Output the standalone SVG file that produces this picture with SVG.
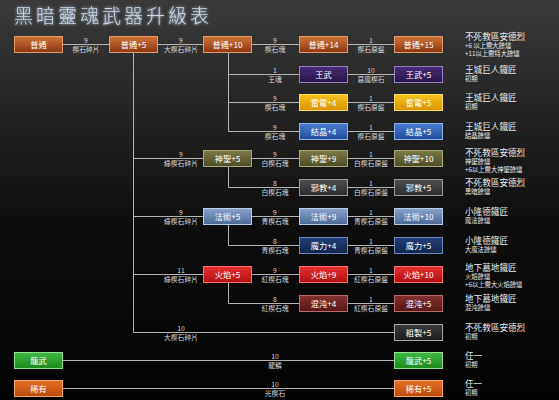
<svg xmlns="http://www.w3.org/2000/svg" width="559" height="400" viewBox="0 0 559 400">
<defs>
<linearGradient id="bg" x1="0" y1="0" x2="0" y2="1">
<stop offset="0" stop-color="#3a3a3a"/><stop offset="0.55" stop-color="#0e0e0e"/><stop offset="1" stop-color="#030303"/>
</linearGradient>
<linearGradient id="gN" x1="0" y1="0" x2="0" y2="1"><stop offset="0" stop-color="#d0743a"/><stop offset="1" stop-color="#8a3812"/></linearGradient>
<linearGradient id="gK" x1="0" y1="0" x2="0" y2="1"><stop offset="0" stop-color="#4a2c78"/><stop offset="1" stop-color="#281448"/></linearGradient>
<linearGradient id="gL" x1="0" y1="0" x2="0" y2="1"><stop offset="0" stop-color="#f6c420"/><stop offset="1" stop-color="#d89400"/></linearGradient>
<linearGradient id="gC" x1="0" y1="0" x2="0" y2="1"><stop offset="0" stop-color="#4a7cd0"/><stop offset="1" stop-color="#234c9a"/></linearGradient>
<linearGradient id="gD" x1="0" y1="0" x2="0" y2="1"><stop offset="0" stop-color="#7c7a48"/><stop offset="1" stop-color="#4e4c26"/></linearGradient>
<linearGradient id="gO" x1="0" y1="0" x2="0" y2="1"><stop offset="0" stop-color="#505050"/><stop offset="1" stop-color="#2c2c2c"/></linearGradient>
<linearGradient id="gE" x1="0" y1="0" x2="0" y2="1"><stop offset="0" stop-color="#8aa4cc"/><stop offset="1" stop-color="#4a6898"/></linearGradient>
<linearGradient id="gM" x1="0" y1="0" x2="0" y2="1"><stop offset="0" stop-color="#23407a"/><stop offset="1" stop-color="#12244a"/></linearGradient>
<linearGradient id="gF" x1="0" y1="0" x2="0" y2="1"><stop offset="0" stop-color="#e83030"/><stop offset="1" stop-color="#b01010"/></linearGradient>
<linearGradient id="gX" x1="0" y1="0" x2="0" y2="1"><stop offset="0" stop-color="#843030"/><stop offset="1" stop-color="#581616"/></linearGradient>
<linearGradient id="gR" x1="0" y1="0" x2="0" y2="1"><stop offset="0" stop-color="#3a3a3a"/><stop offset="1" stop-color="#1c1c1c"/></linearGradient>
<linearGradient id="gG" x1="0" y1="0" x2="0" y2="1"><stop offset="0" stop-color="#40b840"/><stop offset="1" stop-color="#1c8a1c"/></linearGradient>
<linearGradient id="gA" x1="0" y1="0" x2="0" y2="1"><stop offset="0" stop-color="#e87028"/><stop offset="1" stop-color="#b84a0c"/></linearGradient>
<filter id="glow" x="-10%" y="-30%" width="120%" height="160%"><feGaussianBlur stdDeviation="1.4" result="b"/><feMerge><feMergeNode in="b"/><feMergeNode in="SourceGraphic"/></feMerge></filter>
</defs>
<style>
.n rect{stroke-width:1}
.n text{fill:#ffffff;font-family:"Noto Sans CJK TC","Noto Sans",sans-serif;font-size:8.2px;text-anchor:middle}
.N rect{fill:url(#gN);stroke:#e09a6a}
.K rect{fill:url(#gK);stroke:#9080c0}
.L rect{fill:url(#gL);stroke:#f8dc70}
.C rect{fill:url(#gC);stroke:#90b0e8}
.D rect{fill:url(#gD);stroke:#aaa878}
.O rect{fill:url(#gO);stroke:#9a9a9a}
.E rect{fill:url(#gE);stroke:#b8cce6}
.M rect{fill:url(#gM);stroke:#6a88c0}
.F rect{fill:url(#gF);stroke:#f87070}
.X rect{fill:url(#gX);stroke:#b86a6a}
.R rect{fill:url(#gR);stroke:#a8a8a8}
.G rect{fill:url(#gG);stroke:#90e090}
.A rect{fill:url(#gA);stroke:#f8aa70}
#connectors path{stroke:#b4b4b4;stroke-width:1;fill:none}
.el text{fill:#d8d8d8;font-family:"Noto Sans CJK TC","Noto Sans",sans-serif;font-size:6.8px;text-anchor:middle}
.d text{fill:#e8e8e8;font-family:"Noto Sans CJK TC","Noto Sans",sans-serif}
.d .t{font-size:8.6px}
.d .s{font-size:6.3px}
</style>
<rect width="559" height="400" fill="url(#bg)"/>
<text x="14" y="23" fill="#c8d8ea" font-family="'Noto Sans CJK TC','Noto Sans CJK JP',sans-serif" font-size="19" font-weight="300" letter-spacing="3" filter="url(#glow)">黑暗靈魂武器升級表</text>

<g id="connectors">
<path d="M62 44.5H394"/>
<path d="M133.5 52V332.5H394"/>
<path d="M228.5 52V131.5"/>
<path d="M228.5 74.5H394"/>
<path d="M228.5 102.5H394"/>
<path d="M228.5 131.5H394"/>
<path d="M133.5 158.5H394"/>
<path d="M228.5 166V187.5H394"/>
<path d="M133.5 216.5H394"/>
<path d="M228.5 224V245.5H394"/>
<path d="M133.5 274.5H394"/>
<path d="M228.5 282V303.5H394"/>
<path d="M62 360.5H394"/>
<path d="M62 388.5H394"/>
</g>

<g id="edge-labels" class="el">
<text x="86" y="42.5">9</text><text x="86" y="51.5">楔石碎片</text>
<text x="181" y="42.5">9</text><text x="181" y="51.5">大楔石碎片</text>
<text x="275" y="42.5">9</text><text x="275" y="51.5">楔石塊</text>
<text x="371" y="42.5">1</text><text x="371" y="51.5">楔石原盤</text>
<text x="275" y="72.5">1</text><text x="275" y="81.5">王魂</text>
<text x="371" y="72.5">10</text><text x="371" y="81.5">惡魔楔石</text>
<text x="275" y="100.5">9</text><text x="275" y="109.5">楔石塊</text>
<text x="371" y="100.5">1</text><text x="371" y="109.5">楔石原盤</text>
<text x="275" y="129.5">9</text><text x="275" y="138.5">楔石塊</text>
<text x="371" y="129.5">1</text><text x="371" y="138.5">楔石原盤</text>
<text x="181" y="156.5">9</text><text x="181" y="165.5">綠楔石碎片</text>
<text x="275" y="156.5">9</text><text x="275" y="165.5">白楔石塊</text>
<text x="371" y="156.5">1</text><text x="371" y="165.5">白楔石原盤</text>
<text x="275" y="185.5">8</text><text x="275" y="194.5">白楔石塊</text>
<text x="371" y="185.5">1</text><text x="371" y="194.5">白楔石原盤</text>
<text x="181" y="214.5">9</text><text x="181" y="223.5">綠楔石碎片</text>
<text x="275" y="214.5">9</text><text x="275" y="223.5">青楔石塊</text>
<text x="371" y="214.5">1</text><text x="371" y="223.5">青楔石原盤</text>
<text x="275" y="243.5">8</text><text x="275" y="252.5">青楔石塊</text>
<text x="371" y="243.5">1</text><text x="371" y="252.5">青楔石原盤</text>
<text x="181" y="272.5">11</text><text x="181" y="281.5">綠楔石碎片</text>
<text x="275" y="272.5">9</text><text x="275" y="281.5">紅楔石塊</text>
<text x="371" y="272.5">1</text><text x="371" y="281.5">紅楔石原盤</text>
<text x="275" y="301.5">8</text><text x="275" y="310.5">紅楔石塊</text>
<text x="371" y="301.5">1</text><text x="371" y="310.5">紅楔石原盤</text>
<text x="181" y="330.5">10</text><text x="181" y="339.5">大楔石碎片</text>
<text x="275" y="358.5">10</text><text x="275" y="367.5">龍鱗</text>
<text x="275" y="386.5">10</text><text x="275" y="395.5">光楔石</text>
</g>

<g id="n-normal" class="n N"><rect x="14.5" y="36.5" width="48" height="16"/><text x="38.5" y="47.5">普通</text></g>
<g id="n-normal5" class="n N"><rect x="109.5" y="36.5" width="48" height="16"/><text x="133.5" y="47.5">普通+5</text></g>
<g id="n-normal10" class="n N"><rect x="203.5" y="36.5" width="48" height="16"/><text x="227.5" y="47.5">普通+10</text></g>
<g id="n-normal14" class="n N"><rect x="299.5" y="36.5" width="48" height="16"/><text x="323.5" y="47.5">普通+14</text></g>
<g id="n-normal15" class="n N"><rect x="394.5" y="36.5" width="48" height="16"/><text x="418.5" y="47.5">普通+15</text></g>

<g id="n-king" class="n K"><rect x="299.5" y="66.5" width="48" height="16"/><text x="323.5" y="77.5">王武</text></g>
<g id="n-king5" class="n K"><rect x="394.5" y="66.5" width="48" height="16"/><text x="418.5" y="77.5">王武+5</text></g>

<g id="n-light4" class="n L"><rect x="299.5" y="94.5" width="48" height="16"/><text x="323.5" y="105.5">雷電+4</text></g>
<g id="n-light5" class="n L"><rect x="394.5" y="94.5" width="48" height="16"/><text x="418.5" y="105.5">雷電+5</text></g>

<g id="n-crys4" class="n C"><rect x="299.5" y="123.5" width="48" height="16"/><text x="323.5" y="134.5">結晶+4</text></g>
<g id="n-crys5" class="n C"><rect x="394.5" y="123.5" width="48" height="16"/><text x="418.5" y="134.5">結晶+5</text></g>

<g id="n-div5" class="n D"><rect x="203.5" y="150.5" width="48" height="16"/><text x="227.5" y="161.5">神聖+5</text></g>
<g id="n-div9" class="n D"><rect x="299.5" y="150.5" width="48" height="16"/><text x="323.5" y="161.5">神聖+9</text></g>
<g id="n-div10" class="n D"><rect x="394.5" y="150.5" width="48" height="16"/><text x="418.5" y="161.5">神聖+10</text></g>

<g id="n-occ4" class="n O"><rect x="299.5" y="179.5" width="48" height="16"/><text x="323.5" y="190.5">邪教+4</text></g>
<g id="n-occ5" class="n O"><rect x="394.5" y="179.5" width="48" height="16"/><text x="418.5" y="190.5">邪教+5</text></g>

<g id="n-mag5" class="n E"><rect x="203.5" y="208.5" width="48" height="16"/><text x="227.5" y="219.5">法術+5</text></g>
<g id="n-mag9" class="n E"><rect x="299.5" y="208.5" width="48" height="16"/><text x="323.5" y="219.5">法術+9</text></g>
<g id="n-mag10" class="n E"><rect x="394.5" y="208.5" width="48" height="16"/><text x="418.5" y="219.5">法術+10</text></g>

<g id="n-ench4" class="n M"><rect x="299.5" y="237.5" width="48" height="16"/><text x="323.5" y="248.5">魔力+4</text></g>
<g id="n-ench5" class="n M"><rect x="394.5" y="237.5" width="48" height="16"/><text x="418.5" y="248.5">魔力+5</text></g>

<g id="n-fire5" class="n F"><rect x="203.5" y="266.5" width="48" height="16"/><text x="227.5" y="277.5">火焰+5</text></g>
<g id="n-fire9" class="n F"><rect x="299.5" y="266.5" width="48" height="16"/><text x="323.5" y="277.5">火焰+9</text></g>
<g id="n-fire10" class="n F"><rect x="394.5" y="266.5" width="48" height="16"/><text x="418.5" y="277.5">火焰+10</text></g>

<g id="n-chaos4" class="n X"><rect x="299.5" y="295.5" width="48" height="16"/><text x="323.5" y="306.5">混沌+4</text></g>
<g id="n-chaos5" class="n X"><rect x="394.5" y="295.5" width="48" height="16"/><text x="418.5" y="306.5">混沌+5</text></g>

<g id="n-raw5" class="n R"><rect x="394.5" y="324.5" width="48" height="16"/><text x="418.5" y="335.5">粗製+5</text></g>

<g id="n-dragon" class="n G"><rect x="14.5" y="352.5" width="48" height="16"/><text x="38.5" y="363.5">龍武</text></g>
<g id="n-dragon5" class="n G"><rect x="394.5" y="352.5" width="48" height="16"/><text x="418.5" y="363.5">龍武+5</text></g>

<g id="n-rare" class="n A"><rect x="14.5" y="380.5" width="48" height="16"/><text x="38.5" y="391.5">稀有</text></g>
<g id="n-rare5" class="n A"><rect x="394.5" y="380.5" width="48" height="16"/><text x="418.5" y="391.5">稀有+5</text></g>

<g id="descriptions" class="d">
<text class="t" x="465" y="40">不死教區安德烈</text><text class="s" x="465" y="48">+6 以上需大餘燼</text><text class="s" x="465" y="56">+11以上需特大餘燼</text>
<text class="t" x="465" y="73">王城巨人鐵匠</text><text class="s" x="465" y="81">初期</text>
<text class="t" x="465" y="101">王城巨人鐵匠</text><text class="s" x="465" y="109">初期</text>
<text class="t" x="465" y="130">王城巨人鐵匠</text><text class="s" x="465" y="138">結晶餘燼</text>
<text class="t" x="465" y="156">不死教區安德烈</text><text class="s" x="465" y="164">神聖餘燼</text><text class="s" x="465" y="172">+6以上需大神聖餘燼</text>
<text class="t" x="465" y="186">不死教區安德烈</text><text class="s" x="465" y="194">黑暗餘燼</text>
<text class="t" x="465" y="215">小隆德鐵匠</text><text class="s" x="465" y="223">魔法餘燼</text>
<text class="t" x="465" y="244">小隆德鐵匠</text><text class="s" x="465" y="252">大魔法餘燼</text>
<text class="t" x="465" y="271">地下墓地鐵匠</text><text class="s" x="465" y="279">火焰餘燼</text><text class="s" x="465" y="287">+6以上需大火焰餘燼</text>
<text class="t" x="465" y="302">地下墓地鐵匠</text><text class="s" x="465" y="310">混沌餘燼</text>
<text class="t" x="465" y="331">不死教區安德烈</text><text class="s" x="465" y="339">初期</text>
<text class="t" x="465" y="359">任一</text><text class="s" x="465" y="367">初期</text>
<text class="t" x="465" y="387">任一</text><text class="s" x="465" y="395">初期</text>
</g>
</svg>
